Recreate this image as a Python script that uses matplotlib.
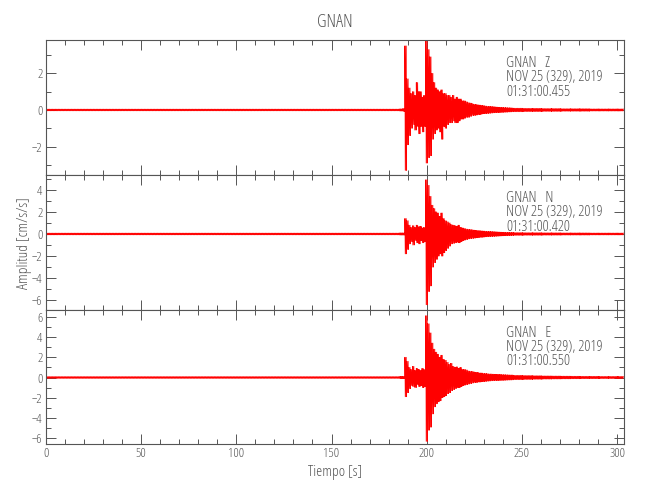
import matplotlib.pyplot as plt
import numpy as np
from matplotlib.ticker import MultipleLocator

plt.rcParams['font.family'] = ['Open Sans', 'DejaVu Sans']
plt.rcParams['font.stretch'] = 'condensed'
plt.rcParams['font.weight'] = 'light'

# %% data
station = "GNAN"
components = ["Z", "N", "E"]
date_label = "NOV 25 (329), 2019"
start_times = ["01:31:00.455", "01:31:00.420", "01:31:00.550"]
t_end = 303.4

# event window: 1-s bins centred on these times
t_event = list(range(186, 246))
# coda: 5-s bins centred on these times
t_coda = [248, 253, 258, 263, 268, 273, 278, 283, 288, 293, 298, 303]

# noise level before the event (cm/s/s)
noise_z, noise_n, noise_e = 0.05, 0.085, 0.095

# upper / lower envelope for each 1-s bin of the event window
z_up = [0.06, 0.06, 0.08, 3.5, 1.7, 1.2, 0.9, 1.0, 0.8, 1.5,
        1.0, 1.0, 0.7, 0.8, 3.8, 3.3, 2.9, 2.0, 1.5, 1.2,
        1.1, 1.0, 1.1, 0.9, 0.9, 0.8, 0.8, 0.7, 0.8, 0.6,
        0.7, 0.6, 0.6, 0.5, 0.5, 0.45, 0.4, 0.38, 0.35, 0.3,
        0.3, 0.28, 0.27, 0.25, 0.24, 0.22, 0.2, 0.2, 0.19, 0.18,
        0.17, 0.16, 0.15, 0.14, 0.14, 0.13, 0.13, 0.12, 0.12, 0.11]
z_lo = [-0.06, -0.06, -0.08, -3.3, -1.9, -1.4, -1.0, -0.8, -1.1, -0.9,
        -1.3, -0.9, -1.2, -0.9, -2.9, -2.6, -2.5, -1.6, -1.3, -1.1,
        -1.0, -1.2, -1.6, -0.9, -1.0, -0.8, -0.7, -0.7, -0.6, -0.7,
        -0.7, -0.6, -0.5, -0.5, -0.45, -0.4, -0.4, -0.35, -0.3, -0.3,
        -0.28, -0.25, -0.25, -0.22, -0.2, -0.2, -0.19, -0.18, -0.17, -0.16,
        -0.15, -0.14, -0.14, -0.13, -0.13, -0.12, -0.12, -0.11, -0.11, -0.1]
z_coda = [0.1, 0.09, 0.09, 0.08, 0.08, 0.07, 0.07, 0.07, 0.06, 0.06, 0.06, 0.06]

n_up = [0.1, 0.1, 0.1, 1.4, 1.2, 0.8, 0.6, 0.75, 0.6, 0.8,
        0.65, 0.7, 0.55, 0.6, 4.9, 4.4, 3.4, 2.6, 2.3, 2.0,
        1.9, 1.6, 1.9, 1.4, 1.2, 1.1, 1.0, 0.85, 0.8, 0.75,
        0.7, 0.8, 0.6, 0.55, 0.5, 0.45, 0.42, 0.4, 0.38, 0.35,
        0.33, 0.3, 0.3, 0.28, 0.27, 0.25, 0.24, 0.23, 0.22, 0.21,
        0.2, 0.19, 0.18, 0.17, 0.16, 0.16, 0.15, 0.15, 0.14, 0.14]
n_lo = [-0.1, -0.1, -0.1, -1.8, -1.4, -0.9, -0.7, -1.0, -0.6, -0.8,
        -0.9, -0.6, -0.8, -0.7, -6.4, -5.2, -4.7, -3.0, -2.6, -2.3,
        -2.0, -1.8, -2.0, -1.7, -1.5, -1.3, -1.1, -0.9, -0.85, -0.8,
        -0.75, -0.8, -0.7, -0.6, -0.55, -0.5, -0.45, -0.42, -0.4, -0.38,
        -0.35, -0.33, -0.3, -0.3, -0.28, -0.26, -0.25, -0.24, -0.23, -0.22,
        -0.21, -0.2, -0.19, -0.18, -0.17, -0.16, -0.16, -0.15, -0.15, -0.14]
n_coda = [0.13, 0.12, 0.12, 0.11, 0.11, 0.1, 0.1, 0.1, 0.09, 0.09, 0.09, 0.09]

e_up = [0.11, 0.11, 0.11, 2.0, 1.6, 1.0, 0.8, 1.1, 0.7, 0.9,
        0.8, 0.7, 0.9, 0.8, 6.1, 5.3, 4.4, 3.4, 2.8, 2.5,
        2.3, 2.0, 2.2, 1.8, 1.7, 1.5, 1.3, 1.4, 1.1, 1.0,
        1.05, 0.9, 1.0, 0.8, 0.8, 0.75, 0.65, 0.6, 0.6, 0.55,
        0.5, 0.5, 0.45, 0.45, 0.4, 0.4, 0.38, 0.35, 0.35, 0.33,
        0.32, 0.3, 0.3, 0.3, 0.28, 0.28, 0.27, 0.26, 0.25, 0.25]
e_lo = [-0.11, -0.11, -0.11, -1.9, -1.5, -1.1, -0.8, -0.9, -1.0, -0.7,
        -0.9, -0.8, -1.0, -0.9, -6.3, -5.2, -4.9, -3.6, -2.9, -2.6,
        -2.4, -2.3, -2.0, -1.9, -1.8, -1.6, -1.5, -1.3, -1.2, -1.1,
        -1.0, -1.0, -0.9, -0.8, -0.75, -0.7, -0.65, -0.6, -0.55, -0.5,
        -0.5, -0.45, -0.45, -0.4, -0.4, -0.38, -0.36, -0.35, -0.33, -0.32,
        -0.3, -0.3, -0.29, -0.28, -0.28, -0.27, -0.26, -0.25, -0.25, -0.24]
e_coda = [0.22, 0.2, 0.18, 0.16, 0.15, 0.14, 0.13, 0.12, 0.12, 0.11, 0.11, 0.11]

y_limits = [(-3.55, 3.82), (-6.87, 5.33), (-6.56, 6.66)]
y_major = [2, 2, 2]

traces = [
    (noise_z, z_up, z_lo, z_coda),
    (noise_n, n_up, n_lo, n_coda),
    (noise_e, e_up, e_lo, e_coda),
]


# %% helpers
def zigzag(t0, t1, up, lo, step=0.2):
    # swing between the bin's envelope values across the bin
    n = max(2, int(round((t1 - t0) / step)))
    x = np.linspace(t0, t1, n + 1)
    y = np.where(np.arange(n + 1) % 2 == 0, up, lo)
    return x, y


def build_trace(noise, up, lo, coda):
    xs, ys = [], []
    x, y = zigzag(0, t_event[0] - 0.5, noise, -noise)
    xs.append(x); ys.append(y)
    for t, u, l in zip(t_event, up, lo):
        x, y = zigzag(t - 0.5, t + 0.5, u, l)
        xs.append(x); ys.append(y)
    for t, a in zip(t_coda, coda):
        x, y = zigzag(t - 2.5, min(t + 2.5, t_end), a, -a)
        xs.append(x); ys.append(y)
    return np.concatenate(xs), np.concatenate(ys)


# %% figure
gray = "#555555"
fs = 11
fig = plt.figure(figsize=(6.5, 5), dpi=100)
left, width = 46 / 650, 577.5 / 650
tops = [40, 175, 310]
bottoms = [175, 310, 444]

for i, (comp, tr) in enumerate(zip(components, traces)):
    b = 1 - bottoms[i] / 500
    h = (bottoms[i] - tops[i]) / 500
    ax = fig.add_axes([left, b, width, h])
    x, y = build_trace(*tr)
    ax.plot(x, y, color="red", lw=0.45)
    ax.set_xlim(0, t_end)
    ax.set_ylim(*y_limits[i])
    ax.xaxis.set_major_locator(MultipleLocator(50))
    ax.xaxis.set_minor_locator(MultipleLocator(10))
    ax.yaxis.set_major_locator(MultipleLocator(y_major[i]))
    ax.yaxis.set_minor_locator(MultipleLocator(1))
    ax.tick_params(which="both", direction="in", top=True, right=True,
                   color=gray, labelcolor=gray, labelsize=9.5, width=0.7)
    ax.tick_params(which="major", length=7, pad=2.5)
    ax.tick_params(which="minor", length=3.5)
    for s in ax.spines.values():
        s.set_color(gray)
        s.set_linewidth(0.8)
    if i < 2:
        ax.tick_params(labelbottom=False)
    info = f"{station}   {comp}\n{date_label}\n{start_times[i]}"
    ax.text(0.797, 0.72, info, transform=ax.transAxes, color=gray,
            fontsize=fs, va="center", ha="left", linespacing=0.95)
    if i == 2:
        ax.set_xlabel("Tiempo [s]", color=gray, fontsize=fs, labelpad=3)

fig.text(335 / 650, 1 - 22 / 500, station, ha="center", va="center",
         color=gray, fontsize=13)
fig.text(24 / 650, 1 - 243 / 500, "Amplitud [cm/s/s]", rotation=90,
         ha="center", va="center", color=gray, fontsize=fs)

fig.savefig("out.png", dpi=100)
